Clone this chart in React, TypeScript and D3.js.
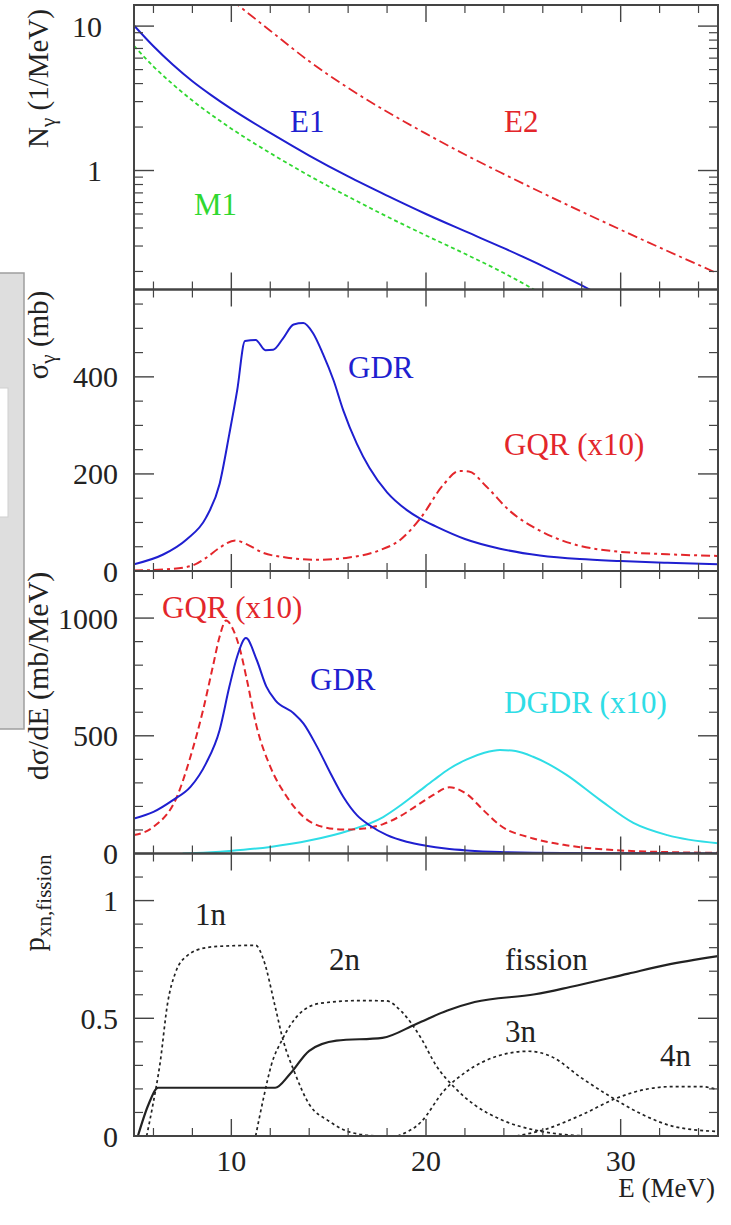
import React from 'react';
import * as d3 from 'd3';

// Canvas and frame geometry
const W = 731;
const H = 1225;
const X0 = 134;
const X1 = 718;
const EDGES = [5, 289.5, 571, 853.5, 1136];
const FONT = "'Liberation Serif', 'Times New Roman', serif";

const BLUE = '#1f1fd0';
const RED = '#e3262b';
const GREEN = '#30d830';
const CYAN = '#2fdde6';
const INK = '#222';
const FRAME = '#444';

// Shared energy axis
const xDomain = [5, 35];
const xMajorTicks = [10, 20, 30];
const xMinorTicks = [6, 8, 12, 14, 16, 18, 22, 24, 26, 28, 32, 34];

// Panel 1: equivalent photon numbers N_gamma (1/MeV)
const e1E = [5, 6, 7, 8, 9, 10, 12, 14, 16, 18, 20, 22, 24, 26, 28, 29];
const e1N = [10.1, 7.25, 5.4, 4.15, 3.3, 2.67, 1.82, 1.27, 0.91, 0.67, 0.5, 0.38, 0.29, 0.218, 0.16, 0.136];
const m1E = [5, 6, 7, 8, 9, 10, 12, 14, 16, 18, 20, 22, 24, 25, 26];
const m1N = [7.3, 5.25, 3.95, 3.05, 2.42, 1.95, 1.32, 0.92, 0.66, 0.48, 0.355, 0.265, 0.195, 0.165, 0.138];
const e2E = [10, 12, 14, 16, 18, 20, 22, 24, 26, 28, 30, 32, 34, 35];
const e2N = [15.2, 9.29, 5.71, 3.73, 2.55, 1.8, 1.29, 0.944, 0.697, 0.519, 0.389, 0.293, 0.222, 0.193];
const p1Major = [1, 10];
const p1Minor = [0.2, 0.3, 0.4, 0.5, 0.6, 0.7, 0.8, 0.9, 2, 3, 4, 5, 6, 7, 8, 9];

// Panel 2: photoabsorption cross sections sigma_gamma (mb)
const gdr2E = [5, 6.5, 7.7, 8.7, 9.4, 9.9, 10.3, 10.7, 11.25, 11.75, 12.15, 12.65, 13.2, 13.7, 14.2, 14.7, 15.25, 15.75, 16.45, 17.1, 18, 19, 19.7, 20.5, 22, 23.8, 25.85, 27.9, 30, 32.4, 35];
const gdr2S = [14, 34, 65, 110, 180, 283, 372, 474, 476, 455, 456, 479, 508, 511, 490, 448, 393, 331, 262, 212, 162, 126, 108, 92, 66, 46, 32, 24.5, 20.5, 17, 14];
const gqr2E = [5, 6.5, 7.9, 8.7, 9.4, 10.2, 10.8, 11.6, 12.8, 14.4, 15.9, 17.5, 18.7, 19.7, 20.9, 21.7, 22.2, 23.1, 24.3, 25.85, 27.6, 29.6, 32.4, 35];
const gqr2S = [1, 3, 10, 27, 48, 63, 55, 38, 28, 23, 27, 41, 65, 108, 178, 206, 205, 174, 124, 83, 55, 41, 34.5, 31];
const p2Major = [0, 200, 400];
const p2Minor = [50, 100, 150, 250, 300, 350, 450, 500, 550];

// Panel 3: excitation spectra dsigma/dE (mb/MeV)
const gdr3E = [5, 6, 7, 7.9, 8.7, 9.4, 9.9, 10.3, 10.75, 11.3, 11.8, 12.25, 13.2, 13.7, 14.4, 15.1, 15.75, 16.45, 17.1, 18, 19, 20, 21, 22.1, 23.8, 27, 35];
const gdr3S = [149, 177, 227, 283, 383, 525, 709, 837, 915, 823, 709, 652, 596, 553, 454, 340, 241, 163, 120, 78, 50, 33, 21, 13, 6, 2, 0.5];
const gqr3E = [5, 6, 7.2, 7.9, 8.55, 9.05, 9.4, 9.73, 10.1, 10.45, 10.8, 11.3, 12, 12.85, 13.7, 14.7, 15.75, 16.8, 17.8, 18.66, 19.7, 20.4, 21.2, 22.1, 22.95, 23.8, 25.5, 27.2, 29.8, 32.4, 35];
const gqr3S = [78, 113, 240, 411, 610, 794, 922, 990, 950, 865, 737, 539, 369, 241, 156, 113, 102, 106, 125, 158, 213, 250, 281, 252, 184, 120, 64, 35, 14, 6, 3];
const dgdrE = [7.5, 8.2, 9.9, 12, 14, 16.1, 17.8, 18.7, 19.7, 20.4, 21.2, 22.1, 23, 23.8, 24.6, 25.5, 26.3, 27.2, 28.9, 30.65, 32.4, 35];
const dgdrS = [0, 2, 11, 28, 55, 99, 155, 205, 268, 312, 360, 400, 428, 440, 435, 411, 380, 335, 230, 130, 78, 43];
const p3Major = [0, 500, 1000];
const p3Minor = [100, 200, 300, 400, 600, 700, 800, 900, 1100];

// Panel 4: decay-channel probabilities
const fisE = [5.2, 5.75, 6.24, 12.25, 13.0, 14.0, 15.4, 17.76, 19.5, 21.1, 22.5, 25.6, 27.4, 30.4, 32.3, 35];
const fisP = [0, 0.135, 0.205, 0.205, 0.262, 0.362, 0.405, 0.417, 0.476, 0.533, 0.569, 0.602, 0.633, 0.69, 0.726, 0.764];
const n1E = [5.65, 5.95, 6.34, 6.73, 7.13, 7.72, 8.7, 9.7, 11.25, 11.65, 12.25, 12.65, 13.25, 14.0, 15.0, 16.2, 17.6, 20];
const n1P = [0, 0.124, 0.31, 0.566, 0.694, 0.765, 0.8, 0.807, 0.81, 0.75, 0.55, 0.41, 0.27, 0.135, 0.064, 0.014, 0, 0];
const n2E = [11.25, 11.65, 12.05, 12.65, 13.45, 14.6, 16.6, 17.95, 18.75, 19.75, 20.5, 21.5, 22.5, 23.9, 25.6, 27.4, 28.4];
const n2P = [0, 0.16, 0.3, 0.415, 0.515, 0.564, 0.575, 0.574, 0.528, 0.415, 0.302, 0.203, 0.132, 0.068, 0.025, 0.004, 0];
const n3E = [18.55, 19.75, 20.9, 22.1, 23.65, 25.25, 26.4, 28, 29.6, 31.15, 32.75, 35];
const n3P = [0, 0.06, 0.19, 0.275, 0.339, 0.36, 0.339, 0.246, 0.161, 0.09, 0.04, 0.019];
const n4E = [24.65, 26, 28, 29.8, 31.15, 32.75, 34.1, 35];
const n4P = [0, 0.025, 0.09, 0.161, 0.196, 0.21, 0.21, 0.196];
const p4Major = [0, 0.5, 1];
const p4Minor = [0.1, 0.2, 0.3, 0.4, 0.6, 0.7, 0.8, 0.9, 1.1];

const x = d3.scaleLinear().domain(xDomain).range([X0, X1]);

const yScales = [
  d3.scaleLog().domain([0.15, 14]).range([EDGES[1], EDGES[0]]),
  d3.scaleLinear().domain([0, 580]).range([EDGES[2], EDGES[1]]),
  d3.scaleLinear().domain([0, 1200]).range([EDGES[3], EDGES[2]]),
  d3.scaleLinear().domain([0, 1.2]).range([EDGES[4], EDGES[3]]),
];

type Series = { xs: number[]; ys: number[]; color: string; width: number; dash?: string };

const pathFor = (panel: number, s: Series) => {
  const y = yScales[panel];
  const pts: [number, number][] = s.xs.map((e, i) => [e, s.ys[i]]);
  return d3
    .line<[number, number]>()
    .x((d) => x(d[0]))
    .y((d) => y(d[1]))
    .curve(d3.curveMonotoneX)(pts) as string;
};

const panels: { series: Series[]; major: number[]; minor: number[]; labelX: number }[] = [
  {
    series: [
      { xs: e2E, ys: e2N, color: RED, width: 1.8, dash: '10,4,3,4' },
      { xs: m1E, ys: m1N, color: GREEN, width: 1.8, dash: '4,3' },
      { xs: e1E, ys: e1N, color: BLUE, width: 2 },
    ],
    major: p1Major,
    minor: p1Minor,
    labelX: 102,
  },
  {
    series: [
      { xs: gqr2E, ys: gqr2S, color: RED, width: 2, dash: '9,4,3,4' },
      { xs: gdr2E, ys: gdr2S, color: BLUE, width: 2 },
    ],
    major: p2Major,
    minor: p2Minor,
    labelX: 118,
  },
  {
    series: [
      { xs: dgdrE, ys: dgdrS, color: CYAN, width: 2 },
      { xs: gqr3E, ys: gqr3S, color: RED, width: 2, dash: '7,4' },
      { xs: gdr3E, ys: gdr3S, color: BLUE, width: 2 },
    ],
    major: p3Major,
    minor: p3Minor,
    labelX: 118,
  },
  {
    series: [
      { xs: n1E, ys: n1P, color: INK, width: 1.7, dash: '3,3' },
      { xs: n2E, ys: n2P, color: INK, width: 1.7, dash: '3,3' },
      { xs: n3E, ys: n3P, color: INK, width: 1.7, dash: '3,3' },
      { xs: n4E, ys: n4P, color: INK, width: 1.7, dash: '3,3' },
      { xs: fisE, ys: fisP, color: INK, width: 2.2 },
    ],
    major: p4Major,
    minor: p4Minor,
    labelX: 118,
  },
];

const labels: { text: string; x: number; y: number; color: string }[] = [
  { text: 'E1', x: 290, y: 132, color: BLUE },
  { text: 'E2', x: 504, y: 132, color: RED },
  { text: 'M1', x: 194, y: 215, color: GREEN },
  { text: 'GDR', x: 348, y: 378, color: BLUE },
  { text: 'GQR (x10)', x: 504, y: 455, color: RED },
  { text: 'GQR (x10)', x: 162, y: 618, color: RED },
  { text: 'GDR', x: 310, y: 690, color: BLUE },
  { text: 'DGDR (x10)', x: 504, y: 713, color: CYAN },
  { text: '1n', x: 195, y: 925, color: INK },
  { text: '2n', x: 329, y: 970, color: INK },
  { text: 'fission', x: 505, y: 970, color: INK },
  { text: '3n', x: 505, y: 1042, color: INK },
  { text: '4n', x: 660, y: 1066, color: INK },
];

const Y_MAJOR = 20;
const Y_MINOR = 9;
const X_MAJOR = 17;
const X_MINOR = 8;

export default function App() {
  return (
    <svg
      width={W}
      height={H}
      viewBox={`0 0 ${W} ${H}`}
      style={{ position: 'absolute', left: 0, top: 0, display: 'block', background: '#fff' }}
      fontFamily={FONT}
    >
      <rect x={0} y={0} width={W} height={H} fill="#fff" />
      {/* side tab */}
      <rect x={-2} y={273} width={26} height={456} fill="#dedede" stroke="#9e9e9e" strokeWidth={1.5} />
      <rect x={-2} y={388} width={10} height={129} fill="#fff" stroke="#cfcfcf" strokeWidth={1} />

      <defs>
        {panels.map((_, i) => (
          <clipPath id={`clip-${i}`} key={i}>
            <rect x={X0} y={EDGES[i]} width={X1 - X0} height={EDGES[i + 1] - EDGES[i]} />
          </clipPath>
        ))}
      </defs>

      {panels.map((p, i) => {
        const y = yScales[i];
        const top = EDGES[i];
        const bot = EDGES[i + 1];
        return (
          <g key={i}>
            <g clipPath={`url(#clip-${i})`}>
              {p.series.map((s, j) => (
                <path
                  key={j}
                  d={pathFor(i, s)}
                  fill="none"
                  stroke={s.color}
                  strokeWidth={s.width}
                  strokeDasharray={s.dash}
                  strokeLinejoin="round"
                />
              ))}
            </g>
            {/* y ticks, both sides */}
            {p.major.map((v) => (
              <g key={`M${v}`} stroke={FRAME} strokeWidth={1.4}>
                <line x1={X0} x2={X0 + Y_MAJOR} y1={y(v)} y2={y(v)} />
                <line x1={X1} x2={X1 - Y_MAJOR} y1={y(v)} y2={y(v)} />
              </g>
            ))}
            {p.minor.map((v) => (
              <g key={`m${v}`} stroke={FRAME} strokeWidth={1.2}>
                <line x1={X0} x2={X0 + Y_MINOR} y1={y(v)} y2={y(v)} />
                <line x1={X1} x2={X1 - Y_MINOR} y1={y(v)} y2={y(v)} />
              </g>
            ))}
            {/* x ticks on top and bottom edges */}
            {xMajorTicks.map((e) => (
              <g key={`xM${e}`} stroke={FRAME} strokeWidth={1.4}>
                <line x1={x(e)} x2={x(e)} y1={top} y2={top + X_MAJOR} />
                <line x1={x(e)} x2={x(e)} y1={bot} y2={bot - X_MAJOR} />
              </g>
            ))}
            {xMinorTicks.map((e) => (
              <g key={`xm${e}`} stroke={FRAME} strokeWidth={1.2}>
                <line x1={x(e)} x2={x(e)} y1={top} y2={top + X_MINOR} />
                <line x1={x(e)} x2={x(e)} y1={bot} y2={bot - X_MINOR} />
              </g>
            ))}
            <rect x={X0} y={top} width={X1 - X0} height={bot - top} fill="none" stroke={FRAME} strokeWidth={2} />
            {p.major.map((v) => (
              <text key={`t${v}`} x={p.labelX} y={y(v)} dy="0.35em" textAnchor="end" fontSize={30} fill={INK}>
                {String(v)}
              </text>
            ))}
          </g>
        );
      })}

      {/* x tick labels and title */}
      {xMajorTicks.map((e) => (
        <text key={e} x={x(e)} y={1171} textAnchor="middle" fontSize={30} fill={INK}>
          {e}
        </text>
      ))}
      <text x={715} y={1197} textAnchor="end" fontSize={27} fill={INK}>
        E (MeV)
      </text>

      {/* y axis titles */}
      <text transform="translate(48,78.5) rotate(-90)" textAnchor="middle" fontSize={29} fill={INK}>
        N<tspan dy={7} fontSize={21}>γ</tspan>
        <tspan dy={-7}> (1/MeV)</tspan>
      </text>
      <text transform="translate(48,335) rotate(-90)" textAnchor="middle" fontSize={29} fill={INK}>
        σ<tspan dy={7} fontSize={21}>γ</tspan>
        <tspan dy={-7}> (mb)</tspan>
      </text>
      <text transform="translate(48,676) rotate(-90)" textAnchor="middle" fontSize={30} fill={INK}>
        dσ/dE (mb/MeV)
      </text>
      <text transform="translate(44,903) rotate(-90)" textAnchor="middle" fontSize={29} fill={INK}>
        p<tspan dy={7} fontSize={21}>xn,fission</tspan>
      </text>

      {/* curve labels */}
      {labels.map((l, i) => (
        <text key={i} x={l.x} y={l.y} fontSize={31} fill={l.color}>
          {l.text}
        </text>
      ))}
    </svg>
  );
}
